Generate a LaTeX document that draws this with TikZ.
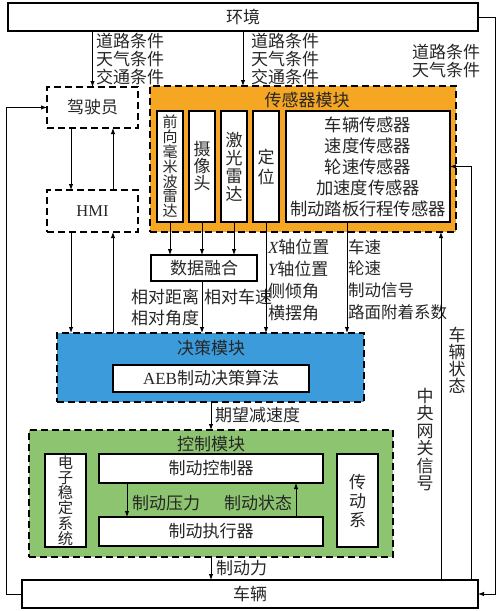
\documentclass[tikz,border=0pt]{standalone}
\usepackage{fontspec}
\setmainfont{Liberation Serif}
\newfontfamily\cjk{Noto Sans CJK SC}
\usetikzlibrary{arrows.meta,calc}
\definecolor{sensorange}{RGB}{245,166,35}
\definecolor{decblue}{RGB}{59,155,219}
\definecolor{ctrlgreen}{RGB}{141,196,112}
\begin{document}
\begin{tikzpicture}[x=1pt,y=-1pt,
  every node/.style={inner sep=0pt, outer sep=0pt, text=black!85},
  txt/.style={font=\cjk\fontsize{17}{18}\selectfont},
  box/.style={draw, line width=1.5pt, fill=white, txt},
  dbox/.style={draw, line width=1.6pt, dash pattern=on 7pt off 4pt, txt},
  arr/.style={line width=0.9pt, -{Latex[length=6pt,width=4.5pt]}},
  vt/.style={box, align=center},
  lab/.style={txt, align=left},
]
\useasboundingbox (0,0) rectangle (500,611);
% top: environment
\node[box, minimum width=470pt, minimum height=28pt] (env) at (243,17) {环境};
% driver and HMI
\node[dbox, minimum width=91pt, minimum height=41pt] (drv) at (92.5,107.5) {驾驶员};
\node[dbox, minimum width=91pt, minimum height=42pt, font=\fontsize{16.5}{18}\selectfont] (hmi) at (92.5,211) {HMI};
% sensor module
\node[dbox, fill=sensorange, minimum width=306pt, minimum height=146pt] (sens) at (303,159) {};
\node[txt] (senst) at (307,100) {传感器模块};
\node[vt, minimum width=26pt, minimum height=111pt, font=\cjk\fontsize{15}{14.8}\selectfont] (radar) at (170,166.5) {前\\向\\毫\\米\\波\\雷\\达};
\node[vt, minimum width=26pt, minimum height=111pt, font=\cjk\fontsize{17}{17}\selectfont] (cam) at (202,166.5) {摄\\像\\头};
\node[vt, minimum width=26pt, minimum height=111pt, font=\cjk\fontsize{17}{18}\selectfont] (lidar) at (234,166.5) {激\\光\\雷\\达};
\node[vt, minimum width=26pt, minimum height=111pt, font=\cjk\fontsize{17}{20}\selectfont] (pos) at (266,166.5) {定\\位};
\node[box, minimum width=164pt, minimum height=111pt, align=center, font=\cjk\fontsize{17.3}{21}\selectfont] (vs) at (368,166.5) {车辆传感器\\速度传感器\\轮速传感器\\加速度传感器\\制动踏板行程传感器};
% fusion
\node[box, minimum width=106pt, minimum height=26pt] (fus) at (204,268) {数据融合};
% decision module
\node[dbox, fill=decblue, minimum width=307pt, minimum height=69pt] (dec) at (210.5,367.5) {};
\node[txt] (dect) at (211,348) {决策模块};
\node[box, minimum width=196pt, minimum height=27pt] (aeb) at (211,378.5) {{\rmfamily AEB}制动决策算法};
% control module
\node[dbox, fill=ctrlgreen, minimum width=364pt, minimum height=127pt] (ctrl) at (211,493.5) {};
\node[txt] (ctrlt) at (211,444) {控制模块};
\node[vt, minimum width=41pt, minimum height=93pt, font=\cjk\fontsize{15.3}{15.3}\selectfont] (esc) at (65.5,500.5) {电\\子\\稳\\定\\系\\统};
\node[box, minimum width=224pt, minimum height=29pt] (bc) at (211,468.5) {制动控制器};
\node[box, minimum width=224pt, minimum height=29pt] (ba) at (211,531.5) {制动执行器};
\node[vt, minimum width=41pt, minimum height=93pt, font=\cjk\fontsize{17}{19}\selectfont] (drive) at (357.5,500.5) {传\\动\\系};
% vehicle
\node[box, minimum width=456pt, minimum height=28pt] (veh) at (250,594) {车辆};

% labels
\node[lab, anchor=west] (l1) at (96,59.5) {道路条件\\天气条件\\交通条件};
\node[lab, anchor=west] (l2) at (251,59.5) {道路条件\\天气条件\\交通条件};
\node[lab, anchor=west] (l3) at (412,61) {道路条件\\天气条件};
\node[lab, anchor=east, font=\cjk\fontsize{17}{21}\selectfont] (l4) at (199,307.5) {相对距离\\相对角度};
\node[lab, anchor=west] (l5) at (204,297) {相对车速};
\node[lab, anchor=west, font=\cjk\fontsize{17}{22}\selectfont] (l6) at (268,280) {{\rmfamily\itshape X}轴位置\\{\rmfamily\itshape Y}轴位置\\侧倾角\\横摆角};
\node[lab, anchor=west, font=\cjk\fontsize{16.5}{21.7}\selectfont] (l7) at (348,279.5) {车速\\轮速\\制动信号\\路面附着系数};
\node[lab, anchor=west] (l8) at (215,415) {期望减速度};
\node[lab, anchor=west] (l9) at (132,503) {制动压力};
\node[lab, anchor=east] (l10) at (292,503) {制动状态};
\node[lab, anchor=west] (l11) at (216,568) {制动力};
\node[txt, align=center, font=\cjk\fontsize{17}{17}\selectfont] (l12) at (457,360) {车\\辆\\状\\态};
\node[txt, align=center, font=\cjk\fontsize{17}{17.5}\selectfont] (l13) at (425,439.5) {中\\央\\网\\关\\信\\号};

% connectors
\draw[arr] (env.south -| drv.north) -- (drv.north);
\draw[arr] (env.south) -- (env.south |- sens.north);
\coordinate (d1) at ([xshift=-21.5pt]drv.south);
\coordinate (d2) at ([xshift=20.5pt]drv.south);
\draw[arr] (d1) -- (d1 |- hmi.north);
\draw[arr] (d2 |- hmi.north) -- (d2);
\coordinate (h1) at ([xshift=-21.5pt]hmi.south);
\coordinate (h2) at ([xshift=20.5pt]hmi.south);
\draw[arr] (h1) -- (h1 |- dec.north);
\draw[arr] (h2 |- dec.north) -- (h2);
\draw[arr] (radar.south) -- (radar.south |- fus.north);
\draw[arr] (cam.south) -- (cam.south |- fus.north);
\draw[arr] (lidar.south) -- (lidar.south |- fus.north);
\coordinate (f1) at ([xshift=-2pt]fus.south);
\draw[arr] (f1) -- (f1 |- dec.north);
\draw[arr] (pos.south) -- (pos.south |- dec.north);
\coordinate (v1) at ([xshift=-21pt]vs.south);
\draw[arr] (v1) -- (v1 |- dec.north);
\draw[arr] (dec.south -| aeb.south) -- (ctrl.north -| aeb.south);
\coordinate (b1) at ([xshift=-84pt]bc.south);
\draw[arr] (b1) -- (b1 |- ba.north);
\coordinate (b2) at ([xshift=85pt]ba.north);
\draw[arr] (b2) -- (b2 |- bc.south);
\draw[arr] (ctrl.south -| aeb.south) -- (veh.north -| aeb.south);
\draw[arr] (veh.west) -- ++(-16,0) |- (drv.west);
\draw[arr] (env.east) -- ++(17,0) |- (veh.east);
\coordinate (r1) at ([xshift=221pt]veh.north);
\draw[arr] (r1) |- (vs.east);
\coordinate (r2) at ([xshift=191pt]veh.north);
\draw[arr] (r2) -- (r2 |- sens.south);
\end{tikzpicture}
\end{document}
